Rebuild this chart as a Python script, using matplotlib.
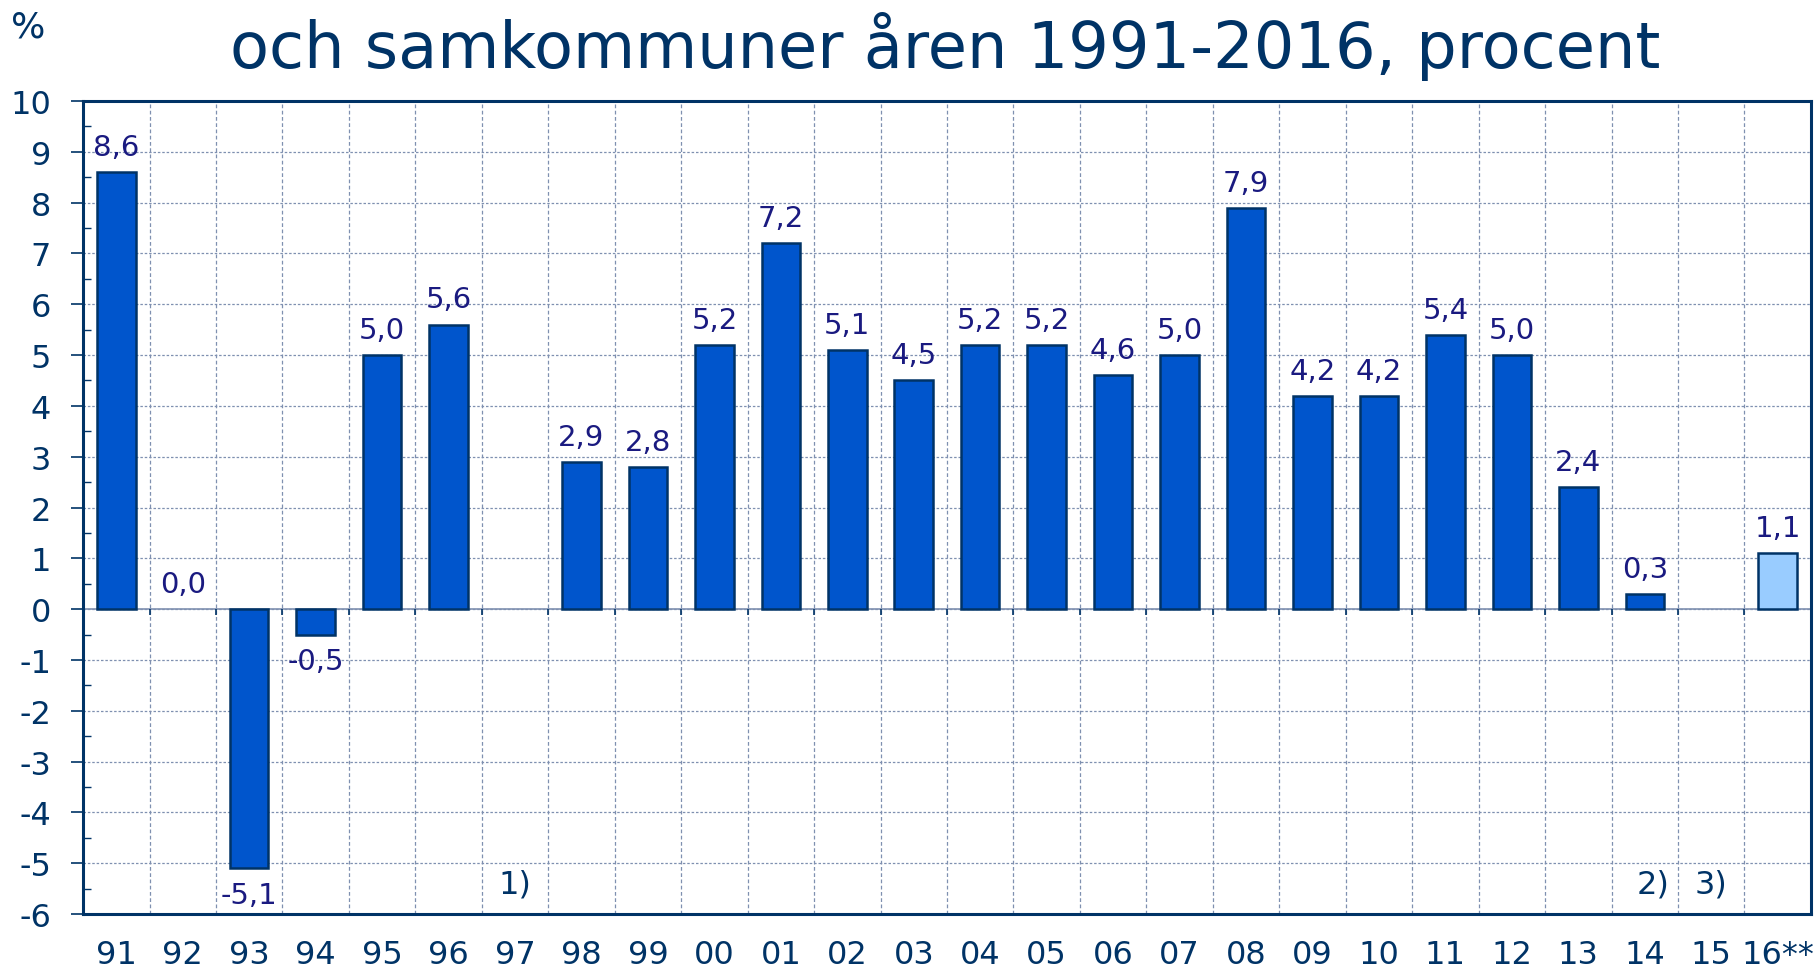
import numpy as np
import matplotlib
matplotlib.use("Agg")
import matplotlib.pyplot as plt

categories = ["91", "92", "93", "94", "95", "96", "97", "98", "99", "00", "01", "02", "03",
              "04", "05", "06", "07", "08", "09", "10", "11", "12", "13", "14", "15", "16**"]
values = [8.6, 0.0, -5.1, -0.5, 5.0, 5.6, np.nan, 2.9, 2.8, 5.2, 7.2, 5.1, 4.5,
          5.2, 5.2, 4.6, 5.0, 7.9, 4.2, 4.2, 5.4, 5.0, 2.4, 0.3, np.nan, 1.1]
estimate = [False] * 25 + [True]
notes = {"97": "1)", "14": "2)", "15": "3)"}
title = "och samkommuner åren 1991-2016, procent"

NAVY = "#003366"
LABEL = "#1a1a80"
BAR = "#0055cc"
BAR_EST = "#99ccff"
GRID = "#7f90b0"

plt.rcParams['font.family'] = ['DejaVu Sans']
plt.rcParams['axes.unicode_minus'] = False

fig = plt.figure(figsize=(18.18, 9.70), dpi=100)
ax = fig.add_axes([0.0457, 0.0567, 0.9504, 0.8381])

x = np.arange(len(categories))
vals = np.array(values, dtype=float)
mask = ~np.isnan(vals) & (vals != 0)
colors = np.array([BAR_EST if e else BAR for e in estimate])
ax.bar(x[mask], vals[mask], width=0.58, color=colors[mask], edgecolor=NAVY,
       linewidth=1.8, zorder=3)

ax.set_xlim(-0.5, len(categories) - 0.5)
ax.set_ylim(-6, 10)

ax.set_yticks(np.arange(-6, 11, 1))
ax.set_yticks(np.arange(-5.5, 10, 1), minor=True)
for yv in range(-5, 10):
    ax.axhline(yv, color=GRID, linewidth=0.9, linestyle=(0, (2, 1.5)), zorder=1)
for b in np.arange(0.5, len(categories) - 0.5, 1):
    ax.axvline(b, color=GRID, linewidth=0.9, linestyle=(0, (3, 2)), zorder=1)
ax.axhline(0, color=GRID, linewidth=1.2, zorder=2)
bounds = np.arange(0.5, len(categories) - 0.5, 1)
ax.vlines(bounds, -0.12, 0, color=NAVY, linewidth=1.2, zorder=2)

ax.set_xticks(x)
ax.set_xticklabels(categories)
ax.tick_params(axis='x', length=0, pad=18, labelsize=23, labelcolor=NAVY)
ax.tick_params(axis='y', which='major', direction='out', length=9, width=1.2,
               color=NAVY, labelsize=23, labelcolor=NAVY, pad=14)
ax.tick_params(axis='y', which='minor', direction='in', length=6, width=1.0, color=NAVY)

for s in ax.spines.values():
    s.set_color(NAVY)
    s.set_linewidth(2.2)

for xi, v in zip(x, vals):
    if np.isnan(v):
        continue
    txt = f"{v:.1f}".replace(".", ",")
    if v >= 0:
        ax.annotate(txt, (xi, v), xytext=(0, 8), textcoords="offset points",
                    ha="center", va="bottom", fontsize=21, color=LABEL, zorder=4)
    else:
        ax.annotate(txt, (xi, v), xytext=(0, -9), textcoords="offset points",
                    ha="center", va="top", fontsize=21, color=LABEL, zorder=4)

for cat, t in notes.items():
    i = categories.index(cat)
    off = 0.12 if cat == "14" else 0.0
    ax.text(i + off, -5.4, t, ha="center", va="center", fontsize=23, color=NAVY, zorder=4)

fig.text(0.006, 0.972, "%", fontsize=26, color=NAVY, ha="left", va="center")
fig.text(0.52, 0.952, title, fontsize=46, color=NAVY, ha="center", va="center")

fig.savefig("out.png", dpi=100)
